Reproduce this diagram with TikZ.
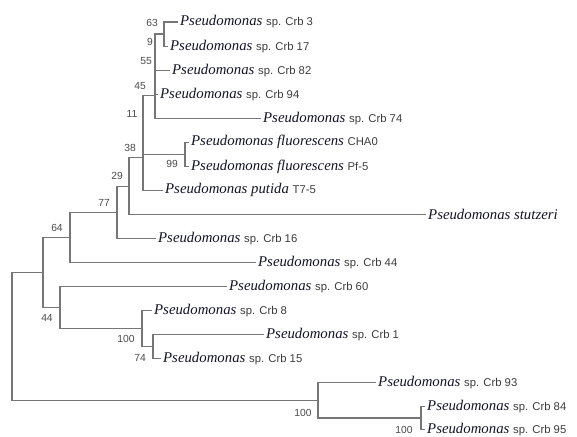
\documentclass[tikz,border=0pt]{standalone}
\usepackage{fontspec}
\setmainfont{Liberation Serif}
\newfontfamily\arialf{Liberation Sans}
\definecolor{branch}{HTML}{767676}
\definecolor{boot}{HTML}{4A4A4A}
\definecolor{taxon}{HTML}{141428}
\definecolor{strain}{HTML}{3C3C3C}
\newcommand\tx[2]{\textit{#1} {\arialf\fontsize{11.3}{13}\selectfont\color{strain}#2}}
\tikzset{
  br/.style={draw=branch, line width=1.1pt, line cap=rect},
  leaf/.style={anchor=west, inner xsep=3pt, inner ysep=0pt, text=taxon,
    font=\fontsize{14.8}{16}\selectfont},
  bs/.style={inner sep=0pt, text=boot, font=\arialf\fontsize{10.3}{11}\selectfont},
}
\begin{document}
\begin{tikzpicture}[x=1pt,y=-1pt]
\useasboundingbox (0,0) rectangle (577,436);
% internal nodes
\coordinate (n63) at (164,34.05);
\coordinate (n55) at (155,52.1);
\coordinate (n45) at (155,73.15);
\coordinate (n11) at (155,95.7);
\coordinate (n99) at (185,154.35);
\coordinate (nD) at (143,125.0);
\coordinate (nE) at (143,157.7);
\coordinate (n29) at (129,186.1);
\coordinate (n77) at (117,212.3);
\coordinate (n64) at (70,237.45);
\coordinate (n74) at (153,346.8);
\coordinate (n100) at (142,328.75);
\coordinate (n44) at (60,307.7);
\coordinate (nA) at (43,272.6);
\coordinate (n100c) at (421,418);
\coordinate (n93) at (318,400.5);
\coordinate (root) at (12,336.6);
% leaves
\node[leaf] (l0) at (177,22) {\tx{Pseudomonas}{sp. Crb 3}};
\node[leaf] (l1) at (167,46.1) {\tx{Pseudomonas}{sp. Crb 17}};
\node[leaf] (l2) at (169,70.1) {\tx{Pseudomonas}{sp. Crb 82}};
\node[leaf] (l3) at (157,94.2) {\tx{Pseudomonas}{sp. Crb 94}};
\node[leaf] (l4) at (260,118.2) {\tx{Pseudomonas}{sp. Crb 74}};
\node[leaf] (l5) at (188,142.3) {\tx{Pseudomonas fluorescens}{CHA0}};
\node[leaf] (l6) at (188,166.4) {\tx{Pseudomonas fluorescens}{Pf-5}};
\node[leaf] (l7) at (162,190.4) {\tx{Pseudomonas putida}{T7-5}};
\node[leaf] (l8) at (425,214.5) {\textit{Pseudomonas stutzeri}};
\node[leaf] (l9) at (155,238.5) {\tx{Pseudomonas}{sp. Crb 16}};
\node[leaf] (l10) at (255,262.6) {\tx{Pseudomonas}{sp. Crb 44}};
\node[leaf] (l11) at (226,286.7) {\tx{Pseudomonas}{sp. Crb 60}};
\node[leaf] (l12) at (151,310.7) {\tx{Pseudomonas}{sp. Crb 8}};
\node[leaf] (l13) at (263,334.8) {\tx{Pseudomonas}{sp. Crb 1}};
\node[leaf] (l14) at (160,358.8) {\tx{Pseudomonas}{sp. Crb 15}};
\node[leaf] (l15) at (375,382.9) {\tx{Pseudomonas}{sp. Crb 93}};
\node[leaf] (l16) at (424,406.5) {\tx{Pseudomonas}{sp. Crb 84}};
\node[leaf] (l17) at (424,429.5) {\tx{Pseudomonas}{sp. Crb 95}};
% branches
\draw[br] (n63) |- (l0.west);
\draw[br] (n63) |- (l1.west);
\draw[br] (n55) |- (n63);
\draw[br] (n55) |- (l2.west);
\draw[br] (n45) |- (n55);
\draw[br] (n45) |- (l3.west);
\draw[br] (n11) |- (n45);
\draw[br] (n11) |- (l4.west);
\draw[br] (n99) |- (l5.west);
\draw[br] (n99) |- (l6.west);
\draw[br] (nD) |- (n11);
\draw[br] (nD) |- (n99);
\draw[br] (nE) |- (nD);
\draw[br] (nE) |- (l7.west);
\draw[br] (n29) |- (nE);
\draw[br] (n29) |- (l8.west);
\draw[br] (n77) |- (n29);
\draw[br] (n77) |- (l9.west);
\draw[br] (n64) |- (n77);
\draw[br] (n64) |- (l10.west);
\draw[br] (n74) |- (l13.west);
\draw[br] (n74) |- (l14.west);
\draw[br] (n100) |- (l12.west);
\draw[br] (n100) |- (n74);
\draw[br] (n44) |- (l11.west);
\draw[br] (n44) |- (n100);
\draw[br] (nA) |- (n64);
\draw[br] (nA) |- (n44);
\draw[br] (n100c) |- (l16.west);
\draw[br] (n100c) |- (l17.west);
\draw[br] (n93) |- (l15.west);
\draw[br] (n93) |- (n100c);
\draw[br] (root) |- (nA);
\draw[br] (root) |- (n93);
% bootstrap values
\node[bs] (b63) at (152,23) {63};
\node[bs] (b9) at (150,42) {9};
\node[bs] (b55) at (146,61) {55};
\node[bs] (b45) at (140,86) {45};
\node[bs] (b11) at (132,114) {11};
\node[bs] (b38) at (130,148) {38};
\node[bs] (b99) at (172,164) {99};
\node[bs] (b29) at (117,176) {29};
\node[bs] (b77) at (104,203) {77};
\node[bs] (b64) at (57,228) {64};
\node[bs] (b44) at (47,318) {44};
\node[bs] (b100a) at (126,339) {100};
\node[bs] (b74) at (140,358) {74};
\node[bs] (b100b) at (303,413) {100};
\node[bs] (b100c) at (404,430) {100};
\end{tikzpicture}
\end{document}
